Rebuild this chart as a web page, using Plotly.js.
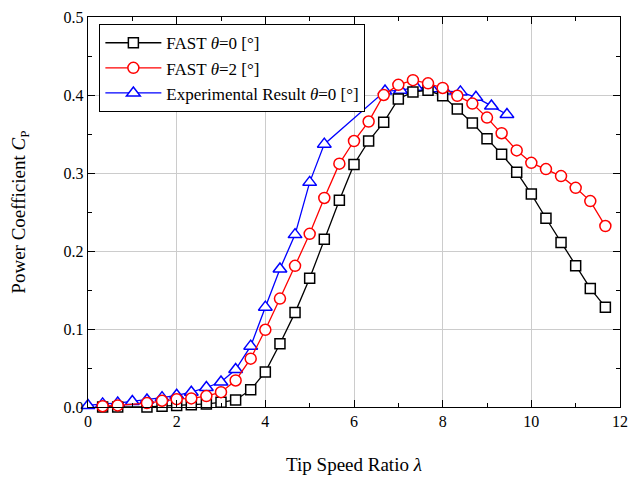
<!DOCTYPE html>
<html>
<head>
<meta charset="utf-8">
<script src="https://cdn.plot.ly/plotly-3.0.1.min.js"></script>
<style>html,body{margin:0;padding:0;background:#fff;}#chart{width:641px;height:483px;}</style>
</head>
<body>
<div id="chart"></div>
<script>
// FAST theta=0
const fast0X = [0.33,0.67,1.33,1.67,2.0,2.33,2.67,3.0,3.33,3.67,4.0,4.33,4.67,5.0,5.33,5.67,6.0,6.33,6.67,7.0,7.33,7.67,8.0,8.33,8.67,9.0,9.33,9.67,10.0,10.33,10.67,11.0,11.33,11.67];
const fast0Y = [0.000,0.000,0.000,0.001,0.002,0.003,0.004,0.006,0.009,0.022,0.045,0.081,0.121,0.165,0.215,0.265,0.311,0.341,0.365,0.395,0.404,0.406,0.399,0.382,0.364,0.344,0.324,0.301,0.273,0.242,0.211,0.181,0.152,0.128];
// FAST theta=2
const fast2X = [0.33,0.67,1.33,1.67,2.0,2.33,2.67,3.0,3.33,3.67,4.0,4.33,4.67,5.0,5.33,5.67,6.0,6.33,6.67,7.0,7.33,7.67,8.0,8.33,8.67,9.0,9.33,9.67,10.0,10.33,10.67,11.0,11.33,11.67];
const fast2Y = [0.001,0.002,0.005,0.008,0.010,0.011,0.014,0.019,0.034,0.062,0.099,0.139,0.181,0.222,0.268,0.312,0.341,0.366,0.400,0.413,0.419,0.415,0.409,0.399,0.389,0.371,0.351,0.329,0.313,0.305,0.296,0.281,0.264,0.232];
// Experimental theta=0
const expX = [0,0.33,0.67,1.0,1.33,1.67,2.0,2.33,2.67,3.0,3.33,3.67,4.0,4.33,4.67,5.0,5.33,6.70,7.05,7.40,7.75,8.05,8.40,8.75,9.10,9.45];
const expY = [0.002,0.004,0.005,0.007,0.009,0.012,0.015,0.019,0.025,0.032,0.048,0.078,0.128,0.177,0.221,0.288,0.337,0.405,0.406,0.410,0.408,0.405,0.404,0.397,0.386,0.375];

const seriesNames = ['FAST <i>θ</i>=0 [°]', 'FAST <i>θ</i>=2 [°]', 'Experimental Result <i>θ</i>=0 [°]'];
const xTicks = [0,2,4,6,8,10,12];
const yTicks = [0,0.1,0.2,0.3,0.4,0.5];

const traces = [
  {x: expX, y: expY, name: seriesNames[2], legendrank: 3, mode: 'lines+markers', cliponaxis: false,
   line: {color: '#0000ff', width: 1.3},
   marker: {symbol: 'triangle-up', size: 12, color: '#ffffff', line: {color: '#0000ff', width: 1.5}}},
  {x: fast0X, y: fast0Y, name: seriesNames[0], legendrank: 1, mode: 'lines+markers', cliponaxis: false,
   line: {color: '#000000', width: 1.3},
   marker: {symbol: 'square', size: 10, color: '#ffffff', line: {color: '#000000', width: 1.5}}},
  {x: fast2X, y: fast2Y, name: seriesNames[1], legendrank: 2, mode: 'lines+markers', cliponaxis: false,
   line: {color: '#ff0000', width: 1.3},
   marker: {symbol: 'circle', size: 11, color: '#ffffff', line: {color: '#ff0000', width: 1.5}}}
];

const fontFam = '"Liberation Serif", "Times New Roman", serif';
const layout = {
  width: 641, height: 483,
  margin: {l: 88, r: 21, t: 17, b: 76},
  paper_bgcolor: '#ffffff', plot_bgcolor: '#ffffff',
  font: {family: fontFam, size: 16, color: '#000'},
  showlegend: true,
  legend: {x: 0.021, y: 0.982, xanchor: 'left', yanchor: 'top', bgcolor: '#ffffff',
           bordercolor: '#000', borderwidth: 1.2, font: {family: fontFam, size: 17},
           itemwidth: 56, tracegroupgap: 0},
  xaxis: {range: [0, 12], tickvals: xTicks, ticktext: xTicks.map(String),
          showgrid: true, gridcolor: '#cccccc', gridwidth: 1,
          showline: true, linecolor: '#000', linewidth: 1.2, mirror: 'ticks',
          ticks: 'inside', ticklen: 7, tickcolor: '#000',
          minor: {dtick: 1, ticks: 'inside', ticklen: 4, tickcolor: '#000', showgrid: false},
          zeroline: false, tickfont: {family: fontFam, size: 16},
          title: {text: 'Tip Speed Ratio <i>λ</i>', font: {family: fontFam, size: 19}, standoff: 28}},
  yaxis: {range: [0, 0.5], tickvals: yTicks, ticktext: yTicks.map(v => v.toFixed(1)),
          showgrid: true, gridcolor: '#cccccc', gridwidth: 1,
          showline: true, linecolor: '#000', linewidth: 1.2, mirror: 'ticks',
          ticks: 'inside', ticklen: 7, tickcolor: '#000',
          minor: {dtick: 0.05, ticks: 'inside', ticklen: 4, tickcolor: '#000', showgrid: false},
          zeroline: false, tickfont: {family: fontFam, size: 16},
          title: {text: 'Power Coefficient <i>C</i><sub>P</sub>', font: {family: fontFam, size: 19}, standoff: 33}}
};

Plotly.newPlot('chart', traces, layout, {displayModeBar: false, staticPlot: true});
</script>
</body>
</html>
